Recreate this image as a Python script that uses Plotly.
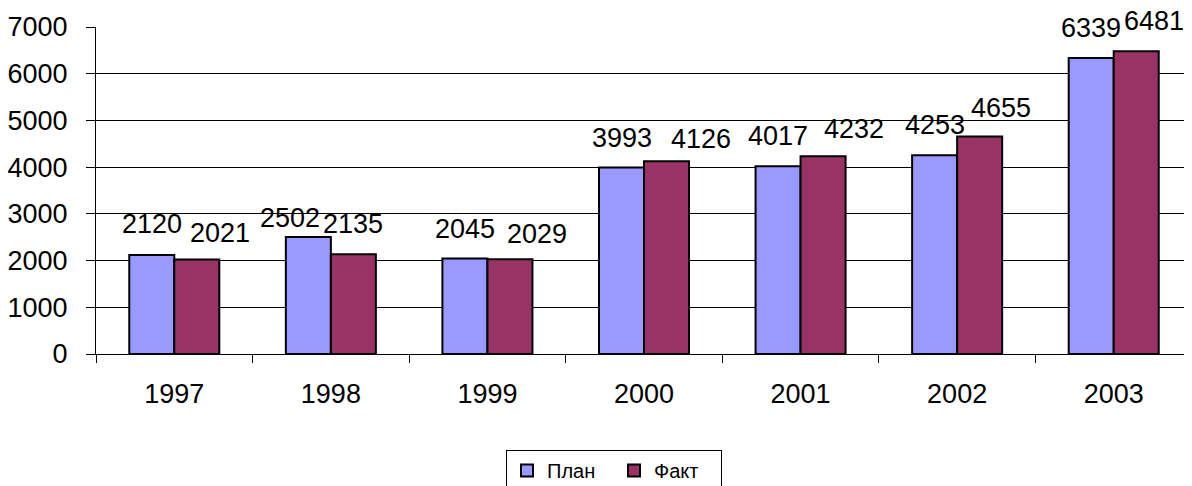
import plotly.graph_objects as go

years = ["1997", "1998", "1999", "2000", "2001", "2002", "2003"]
plan = [2120, 2502, 2045, 3993, 4017, 4253, 6339]
fact = [2021, 2135, 2029, 4126, 4232, 4655, 6481]
series_names = ["План", "Факт"]
colors = ["#9999FF", "#993366"]

# label nudges (style only, in pixels): horizontal offset from bar centre,
# and gap between bar top and the bottom of the digits
plan_label_dx = [0, -18, 0, 0, 0, 0, 0]
fact_label_dx = [23, 0, 27, 34, 31, 21, 18]
plan_label_gap = [20, 8, 18, 18, 19, 19, 19]
fact_label_gap = [16, 19, 14, 11, 16, 18, 19]

FONT = "Liberation Sans, Arial, sans-serif"

# The page body has an 8px margin, so the figure is sized to fit the window.
W, H = 1184, 478
HALF_BAR = 22.5

fig = go.Figure()
for name, vals, col in zip(series_names, [plan, fact], colors):
    fig.add_trace(go.Bar(
        x=years, y=vals, name=name,
        marker=dict(color=col, line=dict(color="black", width=2)),
    ))

# data labels (positioned by category index on the category axis)
for vals, side, dxs, gaps in [(plan, -1, plan_label_dx, plan_label_gap),
                              (fact, 1, fact_label_dx, fact_label_gap)]:
    for i, v in enumerate(vals):
        fig.add_annotation(
            x=i, y=v, text=str(v), showarrow=False,
            xshift=side * HALF_BAR + dxs[i], yshift=gaps[i] - 6,
            yanchor="bottom",
            font=dict(family=FONT, size=27, color="black"),
        )

fig.update_layout(
    width=W, height=H,
    margin=dict(l=88, r=0, t=19, b=132),
    paper_bgcolor="white", plot_bgcolor="white",
    barmode="group", bargap=0.425, bargroupgap=0,
    font=dict(family=FONT, size=27, color="black"),
    showlegend=True,
    legend=dict(
        orientation="h", xref="container", yref="container",
        x=(614 - 8) / W, xanchor="center", y=1 - (450 - 8) / H, yanchor="top",
        bordercolor="black", borderwidth=1,
        font=dict(family=FONT, size=20, color="black"),
        traceorder="normal", entrywidth=62, entrywidthmode="pixels",
    ),
)
fig.update_xaxes(
    type="category", categoryorder="array", categoryarray=years,
    range=[-0.5, 6.5], automargin=False, tickangle=0,
    showline=True, linecolor="black", linewidth=1,
    ticks="outside", tickson="boundaries", ticklen=8, tickcolor="black",
    showgrid=False, ticklabelstandoff=16,
    tickfont=dict(family=FONT, size=27, color="black"),
)
fig.update_yaxes(
    range=[0, 7000], dtick=1000, automargin=False,
    showline=True, linecolor="black", linewidth=1,
    ticks="outside", ticklen=9, tickcolor="black",
    showgrid=True, gridcolor="black", gridwidth=1, zeroline=False,
    ticklabelstandoff=13,
    tickfont=dict(family=FONT, size=27, color="black"),
)

fig.write_html("out.html")
